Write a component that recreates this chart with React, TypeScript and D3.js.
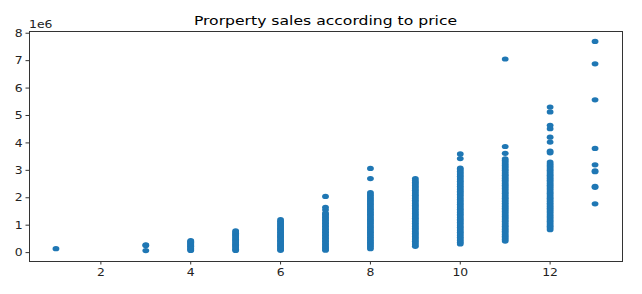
import React from "react";
import * as d3 from "d3";

// Prices in millions (axis carries the 1e6 offset label)
const grade1 = [0.142];
const grade3 = [0.075, 0.262, 0.28];
const grade4 = [0.08, 0.11, 0.14, 0.17, 0.2, 0.23, 0.26, 0.29, 0.32, 0.35, 0.38, 0.41, 0.435];
const grade5 = [0.078, 0.12, 0.17, 0.21, 0.26, 0.3, 0.35, 0.39, 0.44, 0.48, 0.53, 0.57, 0.62, 0.66, 0.71, 0.75, 0.795];
const grade6 = [0.082, 0.13, 0.17, 0.22, 0.27, 0.31, 0.36, 0.41, 0.45, 0.5, 0.55, 0.6, 0.64, 0.69, 0.74, 0.79, 0.84, 0.89, 0.94, 0.99, 1.04, 1.09, 1.14, 1.2];
const grade7 = [0.09, 0.14, 0.19, 0.24, 0.3, 0.35, 0.41, 0.46, 0.52, 0.57, 0.63, 0.68, 0.74, 0.79, 0.85, 0.9, 0.96, 1.01, 1.07, 1.12, 1.18, 1.23, 1.29, 1.34, 1.4, 1.44, 1.56, 1.65, 2.05];
const grade8 = [0.14, 0.2, 0.26, 0.32, 0.38, 0.44, 0.5, 0.56, 0.62, 0.68, 0.74, 0.8, 0.86, 0.92, 0.98, 1.04, 1.1, 1.16, 1.22, 1.28, 1.34, 1.4, 1.46, 1.52, 1.58, 1.64, 1.7, 1.76, 1.82, 1.88, 1.94, 2.0, 2.06, 2.12, 2.19, 2.7, 3.07];
const grade9 = [0.23, 0.29, 0.35, 0.41, 0.47, 0.53, 0.59, 0.65, 0.71, 0.77, 0.83, 0.89, 0.95, 1.01, 1.07, 1.13, 1.19, 1.25, 1.31, 1.37, 1.43, 1.49, 1.55, 1.61, 1.67, 1.73, 1.79, 1.85, 1.91, 1.97, 2.03, 2.09, 2.15, 2.21, 2.27, 2.33, 2.39, 2.45, 2.51, 2.57, 2.63, 2.7];
const grade10 = [0.316, 0.38, 0.44, 0.5, 0.56, 0.62, 0.68, 0.74, 0.8, 0.86, 0.92, 0.98, 1.04, 1.1, 1.16, 1.22, 1.28, 1.34, 1.4, 1.46, 1.52, 1.58, 1.64, 1.7, 1.76, 1.82, 1.88, 1.94, 2.0, 2.06, 2.12, 2.18, 2.24, 2.3, 2.36, 2.42, 2.48, 2.54, 2.6, 2.66, 2.72, 2.78, 2.84, 2.9, 2.96, 3.02, 3.08, 3.43, 3.6];
const grade11 = [0.42, 0.48, 0.54, 0.6, 0.66, 0.72, 0.78, 0.84, 0.9, 0.96, 1.02, 1.08, 1.14, 1.2, 1.26, 1.32, 1.38, 1.44, 1.5, 1.56, 1.62, 1.68, 1.74, 1.8, 1.86, 1.92, 1.98, 2.04, 2.1, 2.16, 2.22, 2.28, 2.34, 2.4, 2.46, 2.52, 2.58, 2.64, 2.7, 2.76, 2.82, 2.88, 2.94, 3.0, 3.06, 3.12, 3.18, 3.24, 3.3, 3.36, 3.42, 3.62, 3.87, 7.06];
const grade12 = [0.835, 0.9, 0.96, 1.02, 1.08, 1.14, 1.2, 1.26, 1.32, 1.38, 1.44, 1.5, 1.56, 1.62, 1.68, 1.74, 1.8, 1.86, 1.92, 1.98, 2.04, 2.1, 2.16, 2.22, 2.28, 2.34, 2.4, 2.46, 2.52, 2.58, 2.64, 2.7, 2.76, 2.82, 2.88, 2.94, 3.0, 3.06, 3.12, 3.18, 3.24, 3.3, 3.64, 3.7, 4.03, 4.21, 4.52, 4.64, 5.13, 5.31];
const grade13 = [1.78, 2.38, 2.42, 2.95, 2.98, 3.2, 3.8, 5.57, 6.885, 7.7];

const gradeKeys = [1, 3, 4, 5, 6, 7, 8, 9, 10, 11, 12, 13];
const gradePrices = [grade1, grade3, grade4, grade5, grade6, grade7, grade8, grade9, grade10, grade11, grade12, grade13];

const xTicks = [2, 4, 6, 8, 10, 12];
const yTicks = [0, 1, 2, 3, 4, 5, 6, 7, 8];
const title = "Prorperty sales according to price";
const offsetLabel = "1e6";

const W = 642;
const H = 294;
const plot = { left: 29, right: 622, top: 31, bottom: 261 };
const color = "#1f77b4";
const font = "DejaVu Sans, sans-serif";
const SX = 1.24; // horizontal stretch seen in the reference's text

function T({ x, y, anchor, size, children, fill = "#222" }: any) {
  return (
    <text
      transform={`translate(${x},${y}) scale(${SX},1)`}
      textAnchor={anchor}
      fontFamily={font}
      fontSize={size}
      fill={fill}
    >
      {children}
    </text>
  );
}

export default function App() {
  const points = gradeKeys.flatMap((g, i) => gradePrices[i].map((p) => ({ g, p })));
  const xMin = d3.min(gradeKeys)!;
  const xMax = d3.max(gradeKeys)!;
  const yMin = d3.min(points, (d) => d.p)!;
  const yMax = d3.max(points, (d) => d.p)!;
  const xPad = (xMax - xMin) * 0.05;
  const yPad = (yMax - yMin) * 0.05;
  const x = d3.scaleLinear().domain([xMin - xPad, xMax + xPad]).range([plot.left, plot.right]);
  const y = d3.scaleLinear().domain([yMin - yPad, yMax + yPad]).range([plot.bottom, plot.top]);

  return (
    <svg width={W} height={H} style={{ position: "absolute", left: 0, top: 0, background: "#fff" }}>
      <T x={(plot.left + plot.right) / 2} y={25} anchor="middle" size={12.6} fill="#000">
        {title}
      </T>
      <g>
        {points.map((d, i) => (
          <ellipse key={i} cx={x(d.g)} cy={y(d.p)} rx={3.4} ry={2.6} fill={color} />
        ))}
      </g>
      <rect
        x={plot.left}
        y={plot.top}
        width={plot.right - plot.left}
        height={plot.bottom - plot.top}
        fill="none"
        stroke="#333"
        strokeWidth={1}
        shapeRendering="crispEdges"
      />
      {xTicks.map((t) => (
        <g key={"x" + t}>
          <line x1={x(t)} x2={x(t)} y1={plot.bottom} y2={plot.bottom + 3.5} stroke="#333" strokeWidth={1} />
          <T x={x(t)} y={276} anchor="middle" size={10}>
            {t}
          </T>
        </g>
      ))}
      {yTicks.map((t) => (
        <g key={"y" + t}>
          <line x1={plot.left - 3.5} x2={plot.left} y1={y(t)} y2={y(t)} stroke="#333" strokeWidth={1} />
          <T x={22.7} y={y(t) + 3.6} anchor="end" size={10}>
            {t}
          </T>
        </g>
      ))}
      <T x={plot.left} y={27.5} anchor="start" size={10}>
        {offsetLabel}
      </T>
    </svg>
  );
}
